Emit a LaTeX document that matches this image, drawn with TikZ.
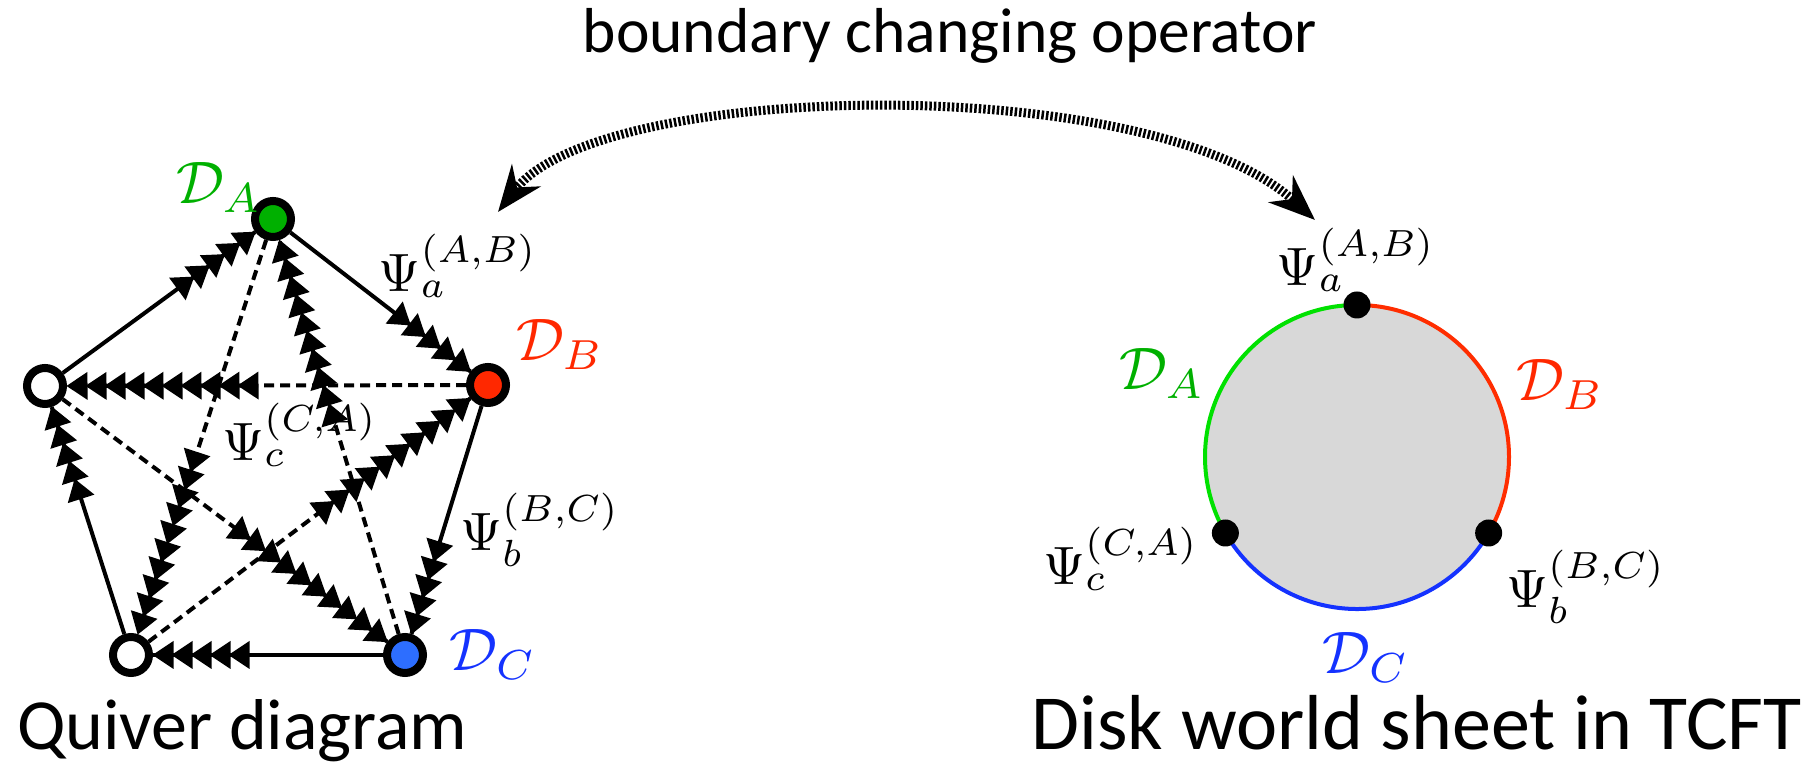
\documentclass[tikz,border=0pt]{standalone}
\usepackage{graphicx}
\usepackage{fontspec}
\newfontfamily\capfont{Carlito}
\usetikzlibrary{arrows.meta,decorations.markings}
\definecolor{qgreen}{RGB}{0,176,0}
\definecolor{qred}{RGB}{255,40,0}
\definecolor{qblue}{RGB}{45,110,255}
\definecolor{tblue}{RGB}{20,50,255}
\definecolor{dgreen}{RGB}{0,225,0}
\definecolor{dred}{RGB}{255,45,0}
\definecolor{dblue}{RGB}{20,50,255}
\definecolor{diskfill}{RGB}{216,216,216}
\newcommand{\psilab}[1]{\scalebox{5.4}{$#1$}}
\newcommand{\dlabel}[1]{\scalebox{6}{$#1$}}
\tikzset{
  qnode/.style={circle, draw=black, line width=8pt, minimum size=36pt, inner sep=0pt},
  qsolid/.style={line width=4pt},
  qdash/.style={line width=4pt, dash pattern=on 10pt off 6pt},
  heads/.style={postaction={decorate, decoration={markings,
     mark=between positions -#1 and -0.5pt step 19pt with {\fill[solid] (1pt,0pt) -- (-20pt,14pt) -- (-20pt,-14pt) -- cycle;}}}},
  mlab/.style={inner sep=0pt},
  ddot/.style={circle, fill=black, minimum size=27pt, inner sep=0pt},
  cap/.style={font=\capfont\fontsize{#1}{#1}\selectfont, inner sep=0pt},
  bco/.style={line width=9pt, dash pattern=on 2.5pt off 2pt, {Stealth[length=46pt,width=36pt]}-{Stealth[length=46pt,width=36pt]}}
}
\begin{document}
\begin{tikzpicture}[x=1pt,y=1pt]
\useasboundingbox (0,0) rectangle (1817,778);
% title
\node[cap=63.5, anchor=base] (title) at (950,725) {boundary changing operator};
% quiver nodes
\node[qnode, fill=qgreen] (qa) at (273,559) {};
\node[qnode, fill=qred] (qb) at (488,393) {};
\node[qnode, fill=qblue] (qc) at (405,123) {};
\node[qnode, fill=white] (ql) at (45,392) {};
\node[qnode, fill=white] (qbl) at (131,123) {};
% outer edges
\draw[qsolid, heads=76.5pt] (ql) -- (qa);
\draw[qsolid, heads=76.5pt] (qa) -- (qb);
\draw[qsolid, heads=76.5pt] (qb) -- (qc);
\draw[qsolid, heads=76.5pt] (qc) -- (qbl);
\draw[qsolid, heads=76.5pt] (qbl) -- (ql);
% diagonals
\draw[qdash, heads=171.5pt] (qb) -- (ql);
\draw[qdash, heads=171.5pt] (qc) -- (qa);
\draw[qdash, heads=171.5pt] (qa) -- (qbl);
\draw[qdash, heads=171.5pt] (ql) -- (qc);
\draw[qdash, heads=171.5pt] (qbl) -- (qb);
% quiver labels
\node[mlab, text=qgreen] (lda) at (219,590) {\dlabel{\mathcal{D}_A}};
\node[mlab, text=qred] (ldb) at (560,433) {\dlabel{\mathcal{D}_B}};
\node[mlab, text=tblue] (ldc) at (493,123) {\dlabel{\mathcal{D}_C}};
\node[mlab] (lpa) at (458,512) {\psilab{\Psi_a^{(A,B)}}};
\node[mlab] (lpc) at (300,343) {\psilab{\Psi_c^{(C,A)}}};
\node[mlab] (lpb) at (540,248) {\psilab{\Psi_b^{(B,C)}}};
% disk
\coordinate (dc) at (1357,321);
\fill[diskfill] (dc) circle (152pt);
\draw[dgreen, line width=4pt] ([shift={(90:152pt)}]dc) arc (90:210:152pt);
\draw[dred, line width=4pt] ([shift={(90:152pt)}]dc) arc (90:-30:152pt);
\draw[dblue, line width=4pt] ([shift={(210:152pt)}]dc) arc (210:330:152pt);
\node[ddot] (pab) at ([shift={(90:152pt)}]dc) {};
\node[ddot] (pca) at ([shift={(210:152pt)}]dc) {};
\node[ddot] (pbc) at ([shift={(330:152pt)}]dc) {};
\node[mlab, text=qgreen] (dda) at (1162,404) {\dlabel{\mathcal{D}_A}};
\node[mlab, text=qred] (ddb) at (1560,393) {\dlabel{\mathcal{D}_B}};
\node[mlab, text=tblue] (ddc) at (1366,120) {\dlabel{\mathcal{D}_C}};
\node[mlab] (dpa) at (1356,518) {\psilab{\Psi_a^{(A,B)}}};
\node[mlab] (dpc) at (1121,219) {\psilab{\Psi_c^{(C,A)}}};
\node[mlab] (dpb) at (1586,191) {\psilab{\Psi_b^{(B,C)}}};
% boundary changing operator arrow
\coordinate (bl) at (498,566);
\coordinate (br) at (1315,558);
\draw[bco] (bl) .. controls (600,698) and (1150,708) .. (br);
% captions
\node[cap=72, anchor=base west] (qcap) at (17,28) {Quiver diagram};
\node[cap=78, anchor=base east] (dcap) at (1802,28) {Disk world sheet in TCFT};
\end{tikzpicture}
\end{document}
